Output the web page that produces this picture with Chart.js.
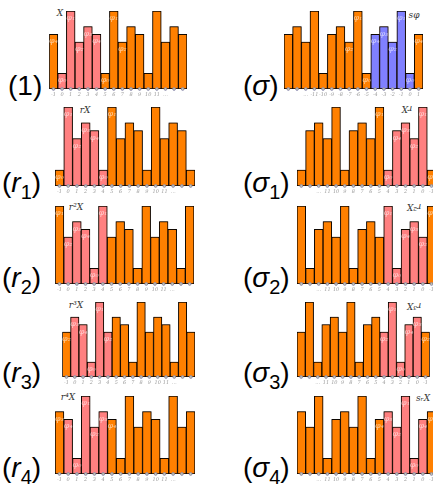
<!DOCTYPE html>
<html>
<head>
<meta charset="utf-8">
<script src="https://cdn.jsdelivr.net/npm/chart.js@4.4.1/dist/chart.umd.min.js"></script>
<style>
html, body { margin: 0; padding: 0; background: #fff; overflow: hidden; }
#wrap { position: relative; width: 433px; height: 487px; overflow: hidden; }
.panel { position: absolute; }
.big { position: absolute; font: 28px "Liberation Sans", Arial, sans-serif; line-height: 28px; color: #000; white-space: nowrap; }
.big sub { font-size: 20px; vertical-align: -7px; line-height: 0; }
.tag { position: absolute; font: italic 9px "DejaVu Serif", serif; color: #333; transform: translate(-50%, -50%); white-space: nowrap; }
.tag.flip { transform: translate(-50%, -50%) rotate(180deg); }
</style>
</head>
<body>
<div id="wrap">
  <div class="big" style="left:8px;top:72px">(1)</div>
  <div class="big" style="left:243px;top:72px">(<i>σ</i>)</div>
  <div class="big" style="left:2px;top:169px">(<i>r</i><sub>1</sub>)</div>
  <div class="big" style="left:243px;top:169px">(<i>σ</i><sub>1</sub>)</div>
  <div class="big" style="left:2px;top:264px">(<i>r</i><sub>2</sub>)</div>
  <div class="big" style="left:243px;top:264px">(<i>σ</i><sub>2</sub>)</div>
  <div class="big" style="left:2px;top:359px">(<i>r</i><sub>3</sub>)</div>
  <div class="big" style="left:243px;top:359px">(<i>σ</i><sub>3</sub>)</div>
  <div class="big" style="left:2px;top:454px">(<i>r</i><sub>4</sub>)</div>
  <div class="big" style="left:243px;top:454px">(<i>σ</i><sub>4</sub>)</div>

  <div class="tag" style="left:60px;top:13px">X</div>
  <div class="tag" style="left:414px;top:15px">sφ</div>
  <div class="tag" style="left:85px;top:110px">rX</div>
  <div class="tag flip" style="left:407px;top:109px">rX</div>
  <div class="tag" style="left:76px;top:207px">r²X</div>
  <div class="tag flip" style="left:414px;top:207px">r²X</div>
  <div class="tag" style="left:76px;top:305px">r³X</div>
  <div class="tag flip" style="left:414px;top:306px">r³X</div>
  <div class="tag" style="left:68px;top:397px">r⁴X</div>
  <div class="tag" style="left:423px;top:398px">sᵣX</div>
</div>
<script>
// --- tick labels ---
const ticksPos = ["-1", "0", "1", "2", "3", "4", "5", "6", "7", "8", "9", "10", "11", "…", "", ""];
const ticksSigma = ["", "", "…", "-11", "-10", "-9", "-8", "-7", "-6", "-5", "-4", "-3", "-2", "-1", "0", "1"];
const ticksSigmaR = ["", "", "…", "11", "10", "9", "8", "7", "6", "5", "4", "3", "2", "1", "0", "-1"];

// --- bar heights, one array per panel ---
const valsOne   = [7, 2, 10, 6, 8, 7, 2, 10, 6, 8, 7, 2, 10, 6, 8, 7];
const valsSigma = [7, 8, 6, 10, 2, 7, 8, 6, 10, 2, 7, 8, 6, 10, 2, 7];
const valsR1    = [2, 10, 6, 8, 7, 2, 10, 6, 8, 7, 2, 10, 6, 8, 7, 2];
const valsS1    = [2, 7, 8, 6, 10, 2, 7, 8, 6, 10, 2, 7, 8, 6, 10, 2];
const valsR2    = [10, 6, 8, 7, 2, 10, 6, 8, 7, 2, 10, 6, 8, 7, 2, 10];
const valsS2    = [10, 2, 7, 8, 6, 10, 2, 7, 8, 6, 10, 2, 7, 8, 6, 10];
const valsR3    = [6, 8, 7, 2, 10, 6, 8, 7, 2, 10, 6, 8, 7, 2, 10, 6];
const valsS3    = [6, 10, 2, 7, 8, 6, 10, 2, 7, 8, 6, 10, 2, 7, 8, 6];
const valsR4    = [8, 7, 2, 10, 6, 8, 7, 2, 10, 6, 8, 7, 2, 10, 6, 8];
const valsS4    = [8, 6, 10, 2, 7, 8, 6, 10, 2, 7, 8, 6, 10, 2, 7, 8];

// which bars carry a phi label
const phiOne   = [0, 1, 2, 3, 4, 5, 6, 7, 8];
const phiSigma = [7, 8, 9, 10, 11, 12, 13, 14, 15];
const phiR1    = [0, 1, 2, 3, 4, 5, 6];
const phiS1    = [9, 10, 11, 12, 13, 14, 15];
const phiR2    = [0, 1, 2, 3, 4, 5];
const phiS2    = [10, 11, 12, 13, 14, 15];
const phiR3    = [0, 1, 2, 3, 4, 5];
const phiS3    = [10, 11, 12, 13, 14, 15];
const phiR4    = [0, 1, 2, 3, 4, 5, 6];
const phiS4    = [9, 10, 11, 12, 13, 14, 15];

// highlighted stretch (first, last)
const hiLeft  = [1, 5];
const hiRight = [10, 14];

// phi name by bar height
const phiName = { 2: "φ₀", 10: "φ₁", 6: "φ₂", 8: "φ₃", 7: "φ₄" };

const ORANGE = "rgb(255,128,0)";
const PINK = "rgb(255,128,128)";
const BLUE = "rgb(128,128,255)";
const AXIS_H = 10;

// panel placement: left of first bar, bar width, top of tallest bar, baseline
const panels = [
  { vals: valsOne,   ticks: ticksPos,    phi: phiOne,   hi: hiLeft,  hiColor: PINK, left: 49.3,  barW: 8.65, top: 11,    base: 89.3 },
  { vals: valsSigma, ticks: ticksSigma,  phi: phiSigma, hi: hiRight, hiColor: BLUE, left: 284.3, barW: 8.69, top: 11,    base: 89.3 },
  { vals: valsR1,    ticks: ticksPos,    phi: phiR1,    hi: hiLeft,  hiColor: PINK, left: 55,    barW: 8.75, top: 107.3, base: 186 },
  { vals: valsS1,    ticks: ticksSigmaR, phi: phiS1,    hi: hiRight, hiColor: PINK, left: 297.3, barW: 8.67, top: 107.3, base: 186 },
  { vals: valsR2,    ticks: ticksPos,    phi: phiR2,    hi: hiLeft,  hiColor: PINK, left: 55,    barW: 8.7,  top: 206,   base: 284.3 },
  { vals: valsS2,    ticks: ticksSigmaR, phi: phiS2,    hi: hiRight, hiColor: PINK, left: 297.3, barW: 8.67, top: 206,   base: 284.3 },
  { vals: valsR3,    ticks: ticksPos,    phi: phiR3,    hi: hiLeft,  hiColor: PINK, left: 62.3,  barW: 8.33, top: 302.3, base: 377.3 },
  { vals: valsS3,    ticks: ticksSigmaR, phi: phiS3,    hi: hiRight, hiColor: PINK, left: 297.3, barW: 8.33, top: 302.3, base: 377.3 },
  { vals: valsR4,    ticks: ticksPos,    phi: phiR4,    hi: hiLeft,  hiColor: PINK, left: 55,    barW: 8.75, top: 396,   base: 474.3 },
  { vals: valsS4,    ticks: ticksSigmaR, phi: phiS4,    hi: hiRight, hiColor: PINK, left: 297.3, barW: 8.67, top: 396,   base: 474.3 }
];

// soft brown halo round the bars + phi names + tick dots
const barDeco = {
  id: "barDeco",
  beforeDatasetsDraw(chart) {
    const ctx = chart.ctx;
    ctx.save();
    ctx.shadowColor = "rgba(90,45,0,0.6)";
    ctx.shadowBlur = 2;
  },
  afterDatasetsDraw(chart, args, opts) {
    const ctx = chart.ctx;
    ctx.restore();
    const meta = chart.getDatasetMeta(0);
    const vals = chart.data.datasets[0].data;
    ctx.save();
    ctx.font = "italic 8px 'DejaVu Serif', serif";
    ctx.fillStyle = "rgba(255,255,255,0.6)";
    ctx.textAlign = "center";
    ctx.textBaseline = "middle";
    (opts.phi || []).forEach(i => {
      const bar = meta.data[i];
      ctx.fillText(phiName[vals[i]], bar.x, bar.y + 7);
    });
    // little dots on the baseline
    const y = chart.chartArea.bottom;
    meta.data.forEach(bar => {
      ctx.beginPath();
      ctx.arc(bar.x, y, 1.4, 0, Math.PI * 2);
      ctx.fillStyle = "#c9c9a6";
      ctx.fill();
      ctx.lineWidth = 0.8;
      ctx.strokeStyle = "#8080b0";
      ctx.stroke();
    });
    ctx.restore();
  }
};

const wrap = document.getElementById("wrap");

panels.forEach(p => {
  const W = Math.round(p.barW * 16) + 2;
  const H = Math.round(p.base - p.top) + 2 + AXIS_H;
  const box = document.createElement("div");
  box.className = "panel";
  box.style.left = (p.left - 1) + "px";
  box.style.top = (p.top - 2) + "px";
  const cv = document.createElement("canvas");
  cv.width = W;
  cv.height = H;
  cv.style.width = W + "px";
  cv.style.height = H + "px";
  box.appendChild(cv);
  wrap.appendChild(box);

  const colors = p.vals.map((_, i) => (i >= p.hi[0] && i <= p.hi[1]) ? p.hiColor : ORANGE);

  new Chart(cv, {
    type: "bar",
    data: {
      labels: p.ticks,
      datasets: [{
        data: p.vals,
        backgroundColor: colors,
        borderColor: "#000",
        borderWidth: 1,
        borderSkipped: false,
        categoryPercentage: 1,
        barPercentage: 1
      }]
    },
    options: {
      responsive: false,
      animation: false,
      events: [],
      devicePixelRatio: 1,
      layout: { padding: { top: 2, left: 1, right: 1, bottom: 0 } },
      plugins: {
        legend: { display: false },
        tooltip: { enabled: false },
        barDeco: { phi: p.phi }
      },
      scales: {
        x: {
          grid: { display: false, drawTicks: false },
          border: { display: false },
          ticks: {
            autoSkip: false,
            maxRotation: 0,
            padding: 3,
            color: "#9a9a9a",
            font: { size: 5, family: "'DejaVu Serif', serif", style: "italic" }
          },
          afterFit(scale) { scale.height = AXIS_H; }
        },
        y: { display: false, min: 0, max: 10 }
      }
    },
    plugins: [barDeco]
  });
});
</script>
</body>
</html>
